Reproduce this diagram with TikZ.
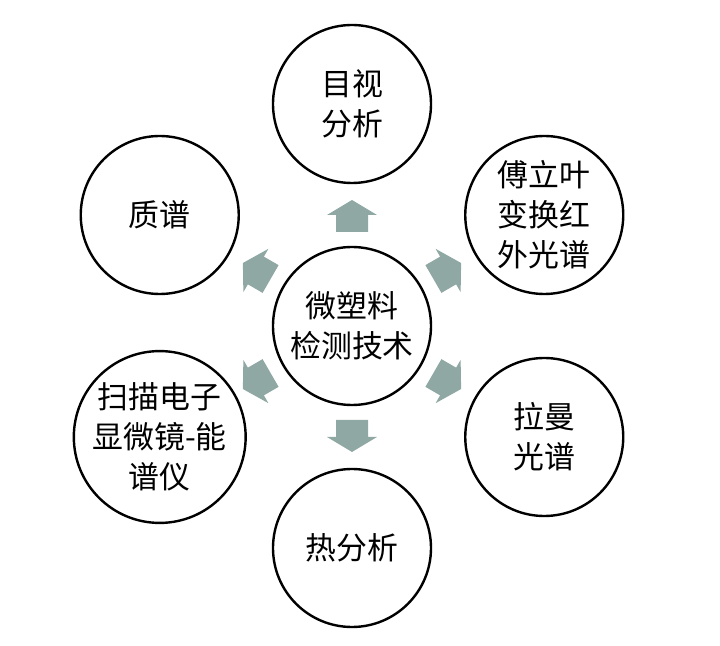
\documentclass[tikz,border=0pt]{standalone}
\usepackage{fontspec}
\setmainfont{Noto Sans CJK SC}
\definecolor{arrowgray}{RGB}{143,168,163}

\begin{document}
\begin{tikzpicture}[x=1bp, y=1bp,
    ring/.style={circle, draw=black, line width=2.4bp, minimum size=158bp,
      inner sep=0pt, align=center, font=\fontsize{31}{40}\selectfont},
    arrowfill/.style={fill=arrowgray}]
  \useasboundingbox (-352,-320) rectangle (368,326);
  \def\d{222}
  % centre and the six methods
  \node[ring] (core) at (0,0) {微塑料\\检测技术};
  \node[ring] (visual) at (90:\d) {目视\\分析};
  \node[ring] (ftir) at (30:\d) {傅立叶\\变换红\\外光谱};
  \node[ring] (raman) at (-30:\d) {拉曼\\光谱};
  \node[ring] (thermal) at (-90:\d) {热分析};
  \node[ring] (sem) at (-150:\d) {扫描电子\\显微镜-能\\谱仪};
  \node[ring] (ms) at (150:\d) {质谱};
  % block arrows
  \foreach \a in {90,30,-30,-90,-150,150} {
    \fill[arrowfill, rotate=\a] (94,-16) -- (111,-16) -- (111,-25) -- (126,0)
      -- (111,25) -- (111,16) -- (94,16) -- cycle;
  }
\end{tikzpicture}
\end{document}
